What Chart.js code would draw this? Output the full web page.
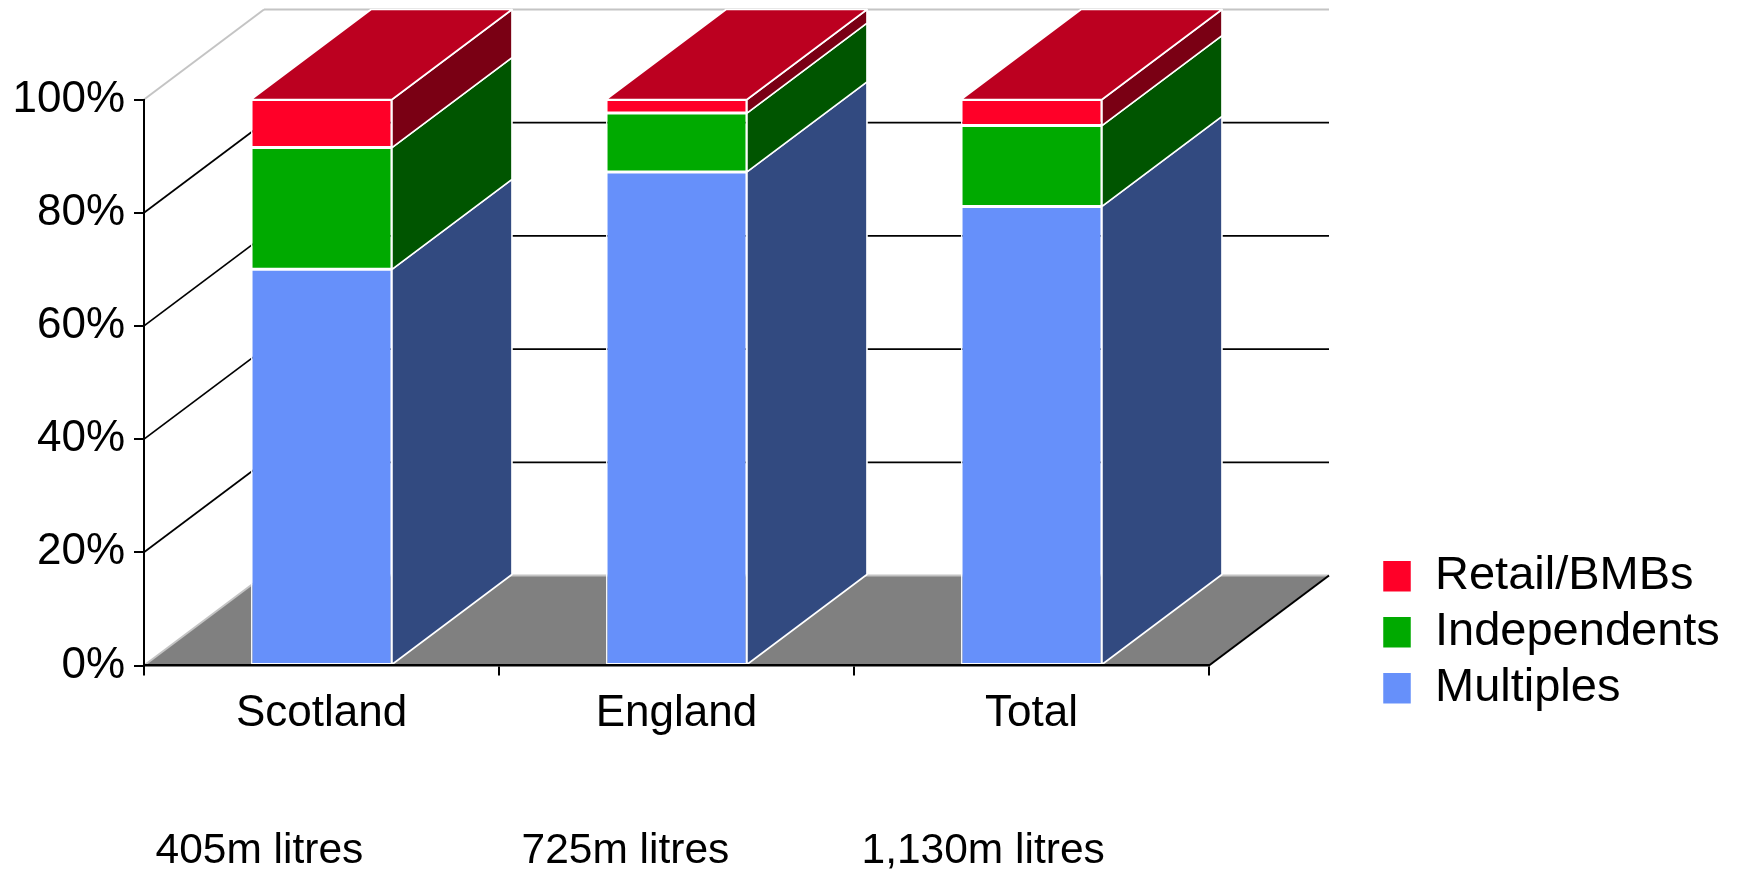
<!DOCTYPE html>
<html>
<head>
<meta charset="utf-8">
<script src="https://cdn.jsdelivr.net/npm/chart.js@4"></script>
<style>
  html, body { margin: 0; padding: 0; background: #ffffff; }
  #wrap { width: 1741px; height: 871px; position: relative; }
</style>
</head>
<body>
<div id="wrap"><canvas id="c"></canvas></div>
<script>
// ---------- data ----------
const categories = ['Scotland', 'England', 'Total'];
const volumeLabels = ['405m litres', '725m litres', '1,130m litres'];
const seriesNames = ['Multiples', 'Independents', 'Retail/BMBs'];
const multiples = [70.0, 87.2, 81.1];
const independents = [21.5, 10.4, 14.3];
const retailBMBs = [8.5, 2.4, 4.6];
const yTicks = [0, 20, 40, 60, 80, 100];

// ---------- styles ----------
const FONT = '"Liberation Sans", Arial, sans-serif';
const frontColors = ['#6690FA', '#00AA00', '#FF0028'];
const sideColors = ['#324A80', '#005500', '#7A0014'];
const topColors = ['#4A6CC0', '#008000', '#BC0020'];
const floorColor = '#808080';
const lightEdge = '#c4c4c4';
const DEPTH_X = 120, DEPTH_Y = -90;
const volumeLabelShift = [-166, -155, -170];

Chart.defaults.font.family = FONT;
Chart.defaults.color = '#000000';

function seg(ctx, x1, y1, x2, y2, color, w) {
  ctx.beginPath();
  ctx.moveTo(x1, y1);
  ctx.lineTo(x2, y2);
  ctx.strokeStyle = color;
  ctx.lineWidth = w;
  ctx.stroke();
}
function poly(ctx, pts, fill, stroke, w) {
  ctx.beginPath();
  ctx.moveTo(pts[0][0], pts[0][1]);
  for (let i = 1; i < pts.length; i++) ctx.lineTo(pts[i][0], pts[i][1]);
  ctx.closePath();
  ctx.fillStyle = fill;
  ctx.fill();
  if (stroke) { ctx.strokeStyle = stroke; ctx.lineWidth = w; ctx.lineJoin = 'round'; ctx.stroke(); }
}

const threeD = {
  id: 'threeD',
  afterLayout(chart) {
    const lg = chart.legend, a = chart.chartArea;
    if (!lg) return;
    const w = lg.width;
    lg.left = a.right + 164.5;
    lg.right = lg.left + w;
    lg.top = a.bottom - 121.75;
    lg.bottom = chart.height;
    lg.height = lg.bottom - lg.top;
  },
  beforeDatasetsDraw(chart) {
    const { ctx, chartArea: a, scales: { x, y } } = chart;
    const L = a.left, R = a.right, B = y.getPixelForValue(0);
    ctx.save();
    // floor
    poly(ctx, [[L, B], [R, B], [R + DEPTH_X, B + DEPTH_Y], [L + DEPTH_X, B + DEPTH_Y]], floorColor);
    seg(ctx, L, B, L + DEPTH_X, B + DEPTH_Y, lightEdge, 2);
    seg(ctx, L + DEPTH_X, B + DEPTH_Y, R + DEPTH_X, B + DEPTH_Y, lightEdge, 2);
    seg(ctx, R, B, R + DEPTH_X, B + DEPTH_Y, '#000000', 2);
    // wall gridlines
    y.ticks.forEach(t => {
      if (t.value === 0) return;
      const py = y.getPixelForValue(t.value);
      const col = t.value === 100 ? lightEdge : '#000000';
      const lw = t.value === 100 ? 2 : 1.7;
      seg(ctx, L, py, L + DEPTH_X, py + DEPTH_Y, col, lw);
      seg(ctx, L + DEPTH_X, py + DEPTH_Y, R + DEPTH_X, py + DEPTH_Y, col, lw);
    });
    ctx.restore();
  },
  afterDatasetsDraw(chart) {
    const { ctx } = chart;
    const metas = chart.getSortedVisibleDatasetMetas();
    const n = chart.data.labels.length;
    ctx.save();
    for (let i = 0; i < n; i++) {
      let top = null;
      metas.forEach(m => {
        const bar = m.data[i];
        if (!bar) return;
        const p = bar.getProps(['x', 'y', 'base', 'width'], true);
        const left = p.x - p.width / 2, right = p.x + p.width / 2;
        const yTop = Math.min(p.y, p.base), yBot = Math.max(p.y, p.base);
        const di = m.index;
        poly(ctx, [[right, yTop], [right + DEPTH_X, yTop + DEPTH_Y], [right + DEPTH_X, yBot + DEPTH_Y], [right, yBot]],
          sideColors[di], '#ffffff', 1.6);
        if (!top || yTop < top.yTop) top = { left, right, yTop, di };
      });
      if (top) {
        poly(ctx, [[top.left, top.yTop], [top.left + DEPTH_X, top.yTop + DEPTH_Y],
          [top.right + DEPTH_X, top.yTop + DEPTH_Y], [top.right, top.yTop]],
          topColors[top.di], '#ffffff', 1.6);
      }
    }
    ctx.restore();
  },
  afterDraw(chart) {
    const { ctx, scales: { x } } = chart;
    ctx.save();
    ctx.font = '42.5px ' + FONT;
    ctx.fillStyle = '#000000';
    ctx.textAlign = 'left';
    ctx.textBaseline = 'alphabetic';
    volumeLabels.forEach((t, i) => {
      ctx.fillText(t, x.getPixelForValue(i) + volumeLabelShift[i], chart.height - 8);
    });
    ctx.restore();
  }
};

const seriesValues = [multiples, independents, retailBMBs];
const datasets = seriesValues.map((vals, k) => ({
  label: seriesNames[k],
  data: vals,
  backgroundColor: frontColors[k],
  borderColor: '#ffffff',
  borderWidth: 1.5,
  borderSkipped: false,
  categoryPercentage: 1.0,
  barPercentage: 0.397
}));

new Chart(document.getElementById('c'), {
  type: 'bar',
  data: { labels: categories, datasets },
  plugins: [threeD],
  options: {
    responsive: true,
    maintainAspectRatio: false,
    animation: false,
    layout: { padding: { top: 99.5, right: 532, bottom: 0, left: 0 } },
    plugins: {
      tooltip: { enabled: false },
      legend: {
        position: 'chartArea',
        align: 'start',
        reverse: true,
        labels: {
          font: { size: 47, family: FONT },
          color: '#000000',
          boxWidth: 29,
          boxHeight: 32,
          padding: 9
        }
      }
    },
    scales: {
      x: {
        stacked: true,
        afterFit: s => { s.height = 871 - 665.5; },
        grid: { display: true, drawOnChartArea: false, drawTicks: true, tickLength: 10, color: '#000000', lineWidth: 2 },
        border: { display: true, color: '#000000', width: 2.5, z: 1 },
        ticks: { font: { size: 44, family: FONT }, color: '#000000', padding: 12, maxRotation: 0 }
      },
      y: {
        stacked: true,
        min: 0,
        max: 100,
        afterFit: s => { s.width = 144; },
        afterBuildTicks: s => { s.ticks = yTicks.map(v => ({ value: v })); },
        grid: { display: true, drawOnChartArea: false, drawTicks: true, tickLength: 10, color: '#000000', lineWidth: 2 },
        border: { display: true, color: '#000000', width: 2, z: 1 },
        ticks: { font: { size: 44, family: FONT }, color: '#000000', padding: 9, callback: v => v + '%' }
      }
    }
  }
});
</script>
</body>
</html>
